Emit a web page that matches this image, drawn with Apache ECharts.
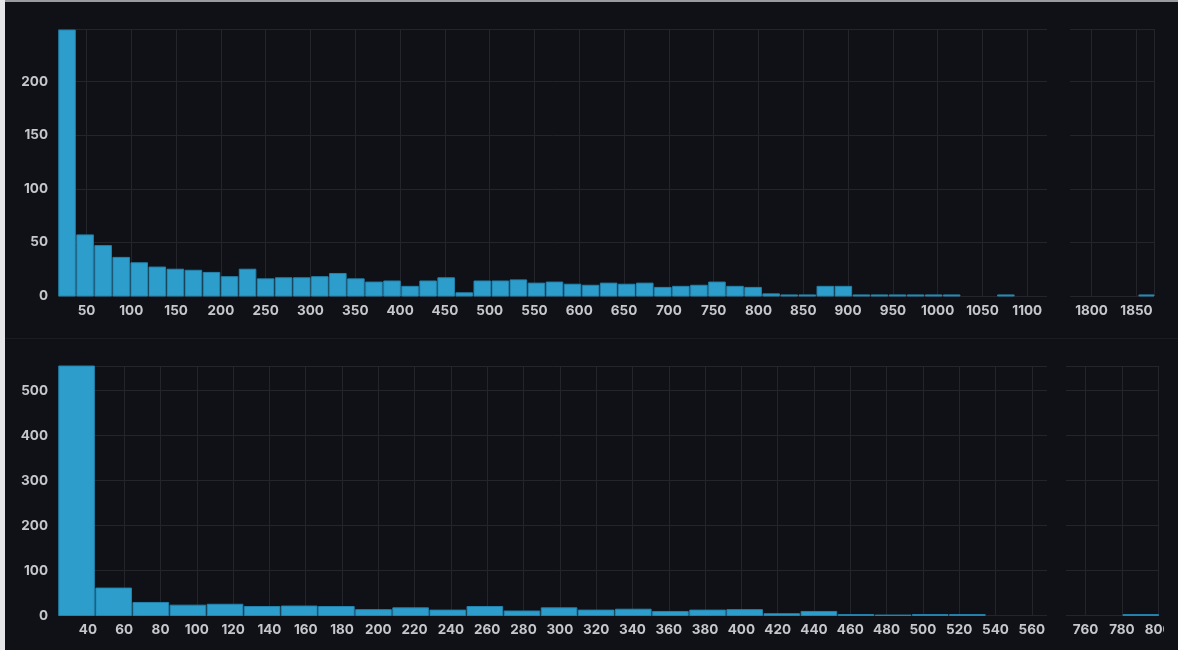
<!DOCTYPE html>
<html>
<head>
<meta charset="utf-8">
<script src="https://cdn.jsdelivr.net/npm/echarts@6/dist/echarts.min.js"></script>
<style>
  html, body { margin: 0; padding: 0; width: 1178px; height: 650px; overflow: hidden; background: #101117; }
  #chart { position: absolute; left: 0; top: 0; width: 1164px; height: 650px; }
  #edge-left { position: absolute; left: 0; top: 0; width: 5px; height: 650px; background: #e6e6e8; }
  #edge-top { position: absolute; left: 0; top: 0; width: 1178px; height: 2px; background: #9a9ba0; }
  #divider { position: absolute; left: 5px; top: 338px; width: 1173px; height: 1px; background: #1b1c22; }
</style>
</head>
<body>
<div id="chart"></div>
<div id="divider"></div>
<div id="edge-top"></div>
<div id="edge-left"></div>
<script>
// Upper histogram: 92 equal buckets
const upperBucketStart = 18.2;
const upperBucketSize = 20.15;
const upperCounts = [
  248, 57, 47, 36, 31, 27, 25, 24, 22, 18,
  25, 16, 17, 17, 18, 21, 16, 13, 14, 9,
  14, 17, 3, 14, 14, 15, 12, 13, 11, 10,
  12, 11, 12, 8, 9, 10, 13, 9, 8, 2,
  1, 1, 9, 9, 1, 1, 1, 1, 1, 1,
  0, 0, 1, 0, 0, 0, 0, 0, 0, 0,
  0, 0, 0, 0, 0, 0, 0, 0, 0, 0,
  0, 0, 0, 0, 0, 0, 0, 0, 0, 0,
  0, 0, 0, 0, 0, 0, 0, 0, 0, 0,
  0, 1
];
const upperMainTicks = [50, 100, 150, 200, 250, 300, 350, 400, 450, 500, 550, 600, 650, 700, 750, 800, 850, 900, 950, 1000, 1050, 1100];
const upperTailTicks = [1800, 1850];
const upperYTicks = [0, 50, 100, 150, 200];

// Lower histogram: 38 equal buckets
const lowerBucketStart = 23.5;
const lowerBucketSize = 20.45;
const lowerCounts = [
  555, 61, 29, 23, 25, 20, 21, 20, 13, 17,
  12, 20, 10, 17, 12, 14, 9, 12, 13, 4,
  9, 2, 1, 2, 2, 0, 0, 0, 0, 0,
  0, 0, 0, 0, 0, 0, 0, 2
];
const lowerMainTicks = [40, 60, 80, 100, 120, 140, 160, 180, 200, 220, 240, 260, 280, 300, 320, 340, 360, 380, 400, 420, 440, 460, 480, 500, 520, 540, 560];
const lowerTailTicks = [760, 780, 800];
const lowerYTicks = [0, 100, 200, 300, 400, 500];

// Each bucket becomes [lower bound, upper bound, count]
function buckets(start, size, counts) {
  return counts.map((c, i) => [start + i * size, start + (i + 1) * size, c]);
}
const upperData = buckets(upperBucketStart, upperBucketSize, upperCounts);
const lowerData = buckets(lowerBucketStart, lowerBucketSize, lowerCounts);

const TEXT = '#c6c7cd';
const GRIDLINE = '#24252b';
const BAR_FILL = '#2d9ecc';
const BAR_EDGE = '#2383ae';
const labelFont = { color: TEXT, fontFamily: 'Inter', fontSize: 13.5, fontWeight: 700 };
const plain = v => String(v);

function renderBucket(params, api) {
  const count = api.value(2);
  if (!count) return null;
  const p0 = api.coord([api.value(0), 0]);
  const p1 = api.coord([api.value(1), count]);
  const cs = params.coordSys;
  const shape = echarts.graphic.clipRectByRect(
    { x: p0[0] + 0.75, y: p1[1], width: p1[0] - p0[0] - 1.5, height: p0[1] - p1[1] },
    { x: cs.x, y: cs.y, width: cs.width, height: cs.height + 1 }
  );
  if (!shape) return null;
  return { type: 'rect', shape: shape, style: { fill: BAR_FILL, stroke: BAR_EDGE, lineWidth: 1 } };
}

function xAxis(gridIndex, min, max, ticks, lineTicks, margin) {
  return {
    type: 'value', gridIndex, min, max,
    axisLine: { show: false },
    axisTick: { show: false, customValues: lineTicks },
    axisLabel: Object.assign({ customValues: ticks, margin: margin, formatter: plain }, labelFont),
    splitLine: { show: true, lineStyle: { color: GRIDLINE, width: 1 } }
  };
}
function yAxis(gridIndex, max, ticks, showLabels) {
  return {
    type: 'value', gridIndex, min: 0, max,
    axisLine: { show: false },
    axisTick: { show: false, customValues: ticks.concat([max]) },
    axisLabel: Object.assign({ show: showLabels, customValues: ticks, margin: 10, formatter: plain }, labelFont),
    splitLine: { show: true, lineStyle: { color: GRIDLINE, width: 1 } }
  };
}
function series(axisIndex, data) {
  return {
    type: 'custom', xAxisIndex: axisIndex, yAxisIndex: axisIndex,
    renderItem: renderBucket, data: data,
    encode: { x: [0, 1], y: 2 }, silent: true
  };
}

const chart = echarts.init(document.getElementById('chart'), null, { renderer: 'canvas' });
chart.setOption({
  backgroundColor: '#101117',
  animation: false,
  grid: [
    { left: 58, top: 29, width: 989, height: 267, outerBoundsMode: 'none' },
    { left: 1070, top: 29, width: 84, height: 267, outerBoundsMode: 'none' },
    { left: 58, top: 366, width: 989, height: 249.5, outerBoundsMode: 'none' },
    { left: 1066, top: 366, width: 93.3, height: 249.5, outerBoundsMode: 'none' }
  ],
  xAxis: [
    xAxis(0, 18.2, 1122, upperMainTicks, upperMainTicks, 8),
    xAxis(1, 1776, 1869.5, upperTailTicks, upperTailTicks.concat([1869.5]), 8),
    xAxis(2, 23.5, 568.4, lowerMainTicks, lowerMainTicks, 7),
    xAxis(3, 749.2, 800.6, lowerTailTicks, lowerTailTicks, 7)
  ],
  yAxis: [
    yAxis(0, 249, upperYTicks, true),
    yAxis(1, 249, upperYTicks, false),
    yAxis(2, 555, lowerYTicks, true),
    yAxis(3, 555, lowerYTicks, false)
  ],
  series: [
    series(0, upperData),
    series(1, upperData),
    series(2, lowerData),
    series(3, lowerData)
  ]
});
</script>
</body>
</html>
